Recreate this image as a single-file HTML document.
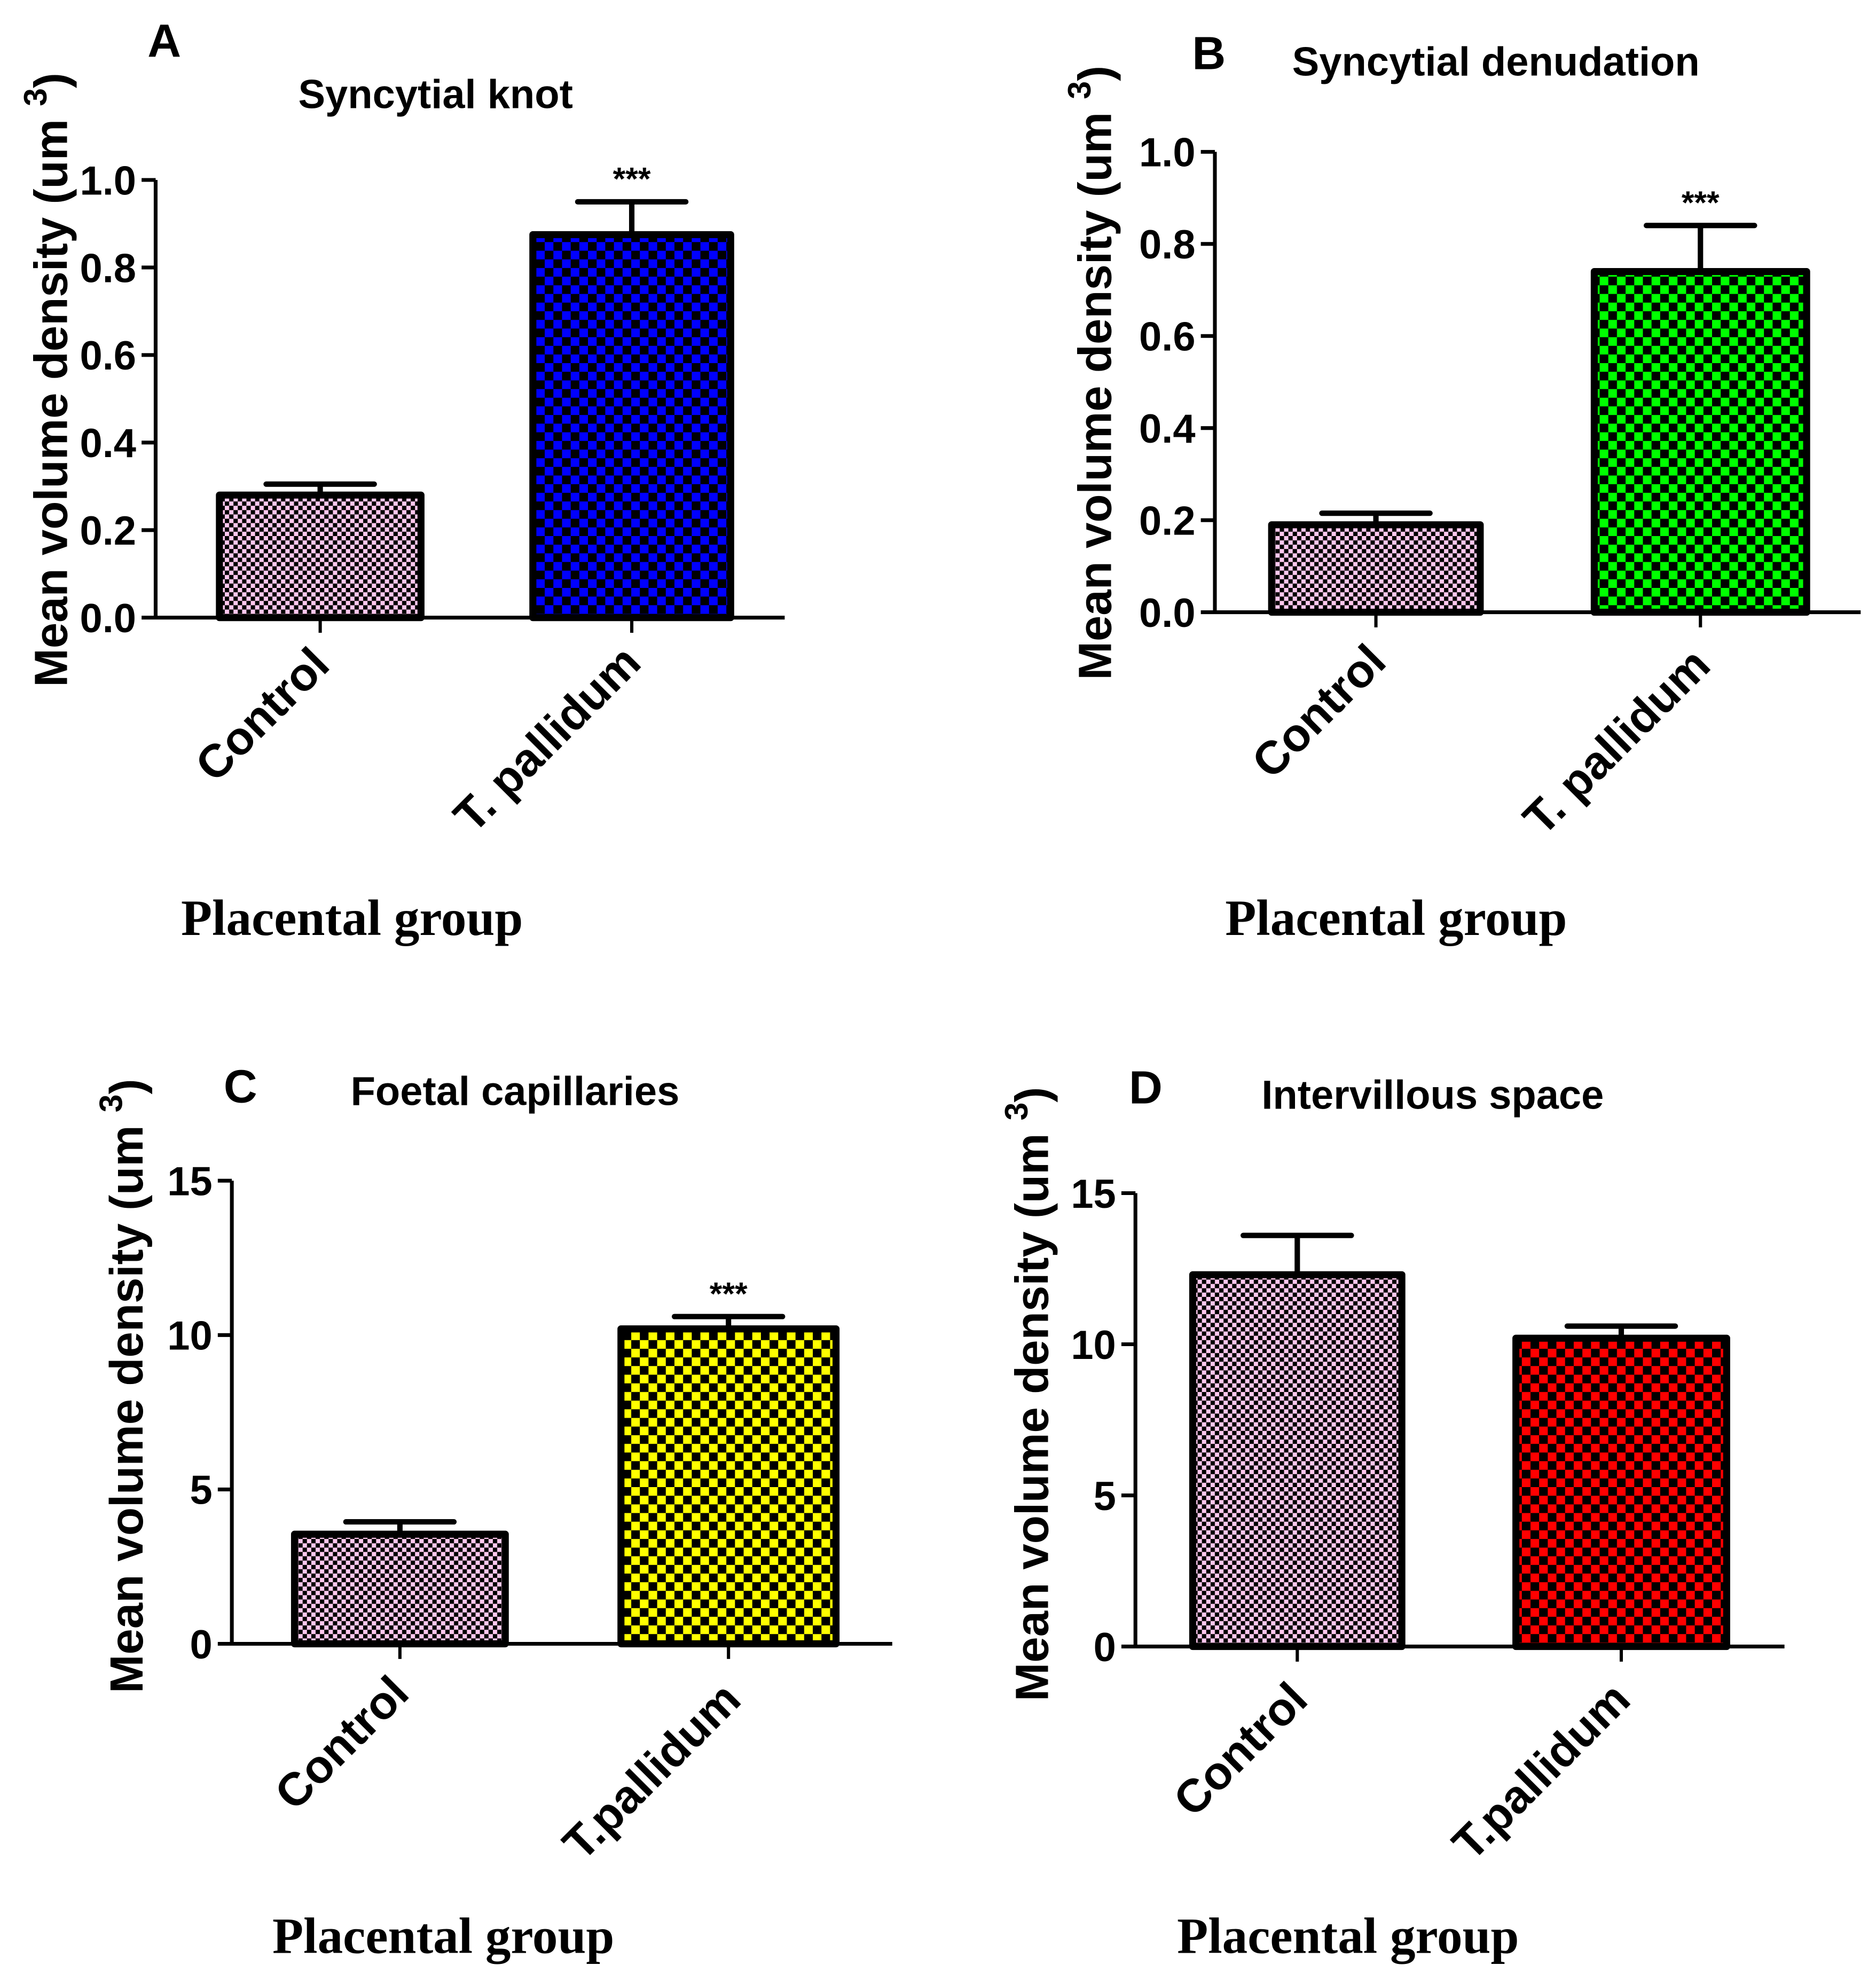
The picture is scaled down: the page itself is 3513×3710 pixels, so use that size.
<!DOCTYPE html>
<html><head><meta charset="utf-8"><style>
html,body{margin:0;padding:0;background:#fff}
svg{display:block}
text{font-family:"Liberation Sans",Arial,sans-serif;font-weight:bold;fill:#000}
.serif{font-family:"Liberation Serif","Times New Roman",serif}
</style></head><body>
<svg id="fig" width="3513" height="3710" viewBox="0 0 3513 3710" xmlns="http://www.w3.org/2000/svg">
<defs>
<pattern id="p-pink" width="16" height="16" patternUnits="userSpaceOnUse"><rect width="16" height="16" fill="#ffc8ee"/><rect width="8" height="8" fill="#000"/><rect x="8" y="8" width="8" height="8" fill="#000"/></pattern>
<pattern id="p-blue" width="32" height="32" patternUnits="userSpaceOnUse"><rect width="32" height="32" fill="#0000ff"/><rect width="16" height="16" fill="#000"/><rect x="16" y="16" width="16" height="16" fill="#000"/></pattern>
<pattern id="p-green" width="32" height="32" patternUnits="userSpaceOnUse"><rect width="32" height="32" fill="#00ff00"/><rect width="16" height="16" fill="#000"/><rect x="16" y="16" width="16" height="16" fill="#000"/></pattern>
<pattern id="p-yellow" width="32" height="32" patternUnits="userSpaceOnUse"><rect width="32" height="32" fill="#ffff00"/><rect width="16" height="16" fill="#000"/><rect x="16" y="16" width="16" height="16" fill="#000"/></pattern>
<pattern id="p-red" width="32" height="32" patternUnits="userSpaceOnUse"><rect width="32" height="32" fill="#ff0000"/><rect width="16" height="16" fill="#000"/><rect x="16" y="16" width="16" height="16" fill="#000"/></pattern>
</defs>
<g id="root" transform="scale(1.012)"></g>
</svg>
<script>
// Data
const panelLetters = ["A","B","C","D"];
const panelTitles = ["Syncytial knot","Syncytial denudation","Foetal capillaries","Intervillous space"];
const categoriesA = ["Control","T. pallidum"];
const categoriesB = ["Control","T. pallidum"];
const categoriesC = ["Control","T.pallidum"];
const categoriesD = ["Control","T.pallidum"];
const valuesA = [0.28, 0.875];
const errorsA = [0.305, 0.95];
const valuesB = [0.19, 0.74];
const errorsB = [0.215, 0.84];
const valuesC = [3.55, 10.2];
const errorsC = [3.95, 10.6];
const valuesD = [12.3, 10.2];
const errorsD = [13.6, 10.6];
const ticksA = [0,0.2,0.4,0.6,0.8,1.0];
const tickLabelsA = ["0.0","0.2","0.4","0.6","0.8","1.0"];
const ticksB = [0,0.2,0.4,0.6,0.8,1.0];
const tickLabelsB = ["0.0","0.2","0.4","0.6","0.8","1.0"];
const ticksC = [0,5,10,15];
const tickLabelsC = ["0","5","10","15"];
const ticksD = [0,5,10,15];
const tickLabelsD = ["0","5","10","15"];
const sigA = ["", "***"];
const sigB = ["", "***"];
const sigC = ["", "***"];
const sigD = ["", ""];

const NS="http://www.w3.org/2000/svg";
const root=document.getElementById('root');
function el(tag,attrs,parent,txt){const e=document.createElementNS(NS,tag);for(const k in attrs)e.setAttribute(k,attrs[k]);if(txt!==undefined)e.textContent=txt;(parent||root).appendChild(e);return e;}

const layouts=[
 {ax:288,y0:1143,yTop:333,vTop:1,xEnd:1452,bars:[[400,785],[980,1358]],fills:["url(#p-pink)","url(#p-blue)"],
  letter:[304,105],title:[806,200],ylab:[94,703],cat:[[614,1235],[1190,1231]],pg:[335,1730],
  cats:categoriesA,vals:valuesA,errs:errorsA,ticks:ticksA,tl:tickLabelsA,sig:sigA},
 {ax:2248,y0:1133,yTop:281,vTop:1,xEnd:3443,bars:[[2347,2745],[2944,3349]],fills:["url(#p-pink)","url(#p-green)"],
  letter:[2237,128],title:[2768,140],ylab:[2026,690],cat:[[2569,1229],[3169,1236]],pg:[2267,1730],
  cats:categoriesB,vals:valuesB,errs:errorsB,ticks:ticksB,tl:tickLabelsB,sig:sigB},
 {ax:429,y0:3042,yTop:2185,vTop:15,xEnd:1651,bars:[[539,941],[1143,1553]],fills:["url(#p-pink)","url(#p-yellow)"],
  letter:[445,2040],title:[953,2045],ylab:[234,2565],cat:[[761,3138],[1375,3150]],pg:[504,3614],
  cats:categoriesC,vals:valuesC,errs:errorsC,ticks:ticksC,tl:tickLabelsC,sig:sigC},
 {ax:2101,y0:3047,yTop:2208,vTop:15,xEnd:3302,bars:[[2201,2600],[2799,3201]],fills:["url(#p-pink)","url(#p-red)"],
  letter:[2120,2042],title:[2651,2052],ylab:[1909,2580],cat:[[2424,3150],[3021,3150]],pg:[2178,3614],
  cats:categoriesD,vals:valuesD,errs:errorsD,ticks:ticksD,tl:tickLabelsD,sig:sigD}
];

layouts.forEach((L,i)=>{
  const id=panelLetters[i].toLowerCase();
  const g=el('g',{});
  
  
  const y=v=>L.y0-(v/L.vTop)*(L.y0-L.yTop);
  const lt=el('text',{x:L.letter[0],y:L.letter[1],'font-size':86,'text-anchor':'middle'},g,panelLetters[i]);
  
  
  const tt=el('text',{x:L.title[0],y:L.title[1],'font-size':75,'text-anchor':'middle'},g,panelTitles[i]);
  
  
  const yt=el('text',{transform:`translate(${L.ylab[0]+30},${L.ylab[1]}) rotate(-90)`,'font-size':86,'text-anchor':'middle'},g);
  
  
  el('tspan',{},yt,'Mean volume density (um ');
  el('tspan',{dy:-38,'font-size':60},yt,'3');
  el('tspan',{dy:38},yt,')');
  L.vals.forEach((v,j)=>{
    const [x1,x2]=L.bars[j];const cx=(x1+x2)/2;
    const r=el('rect',{x:x1+6,y:y(v),width:x2-x1-12,height:L.y0-y(v),fill:L.fills[j],stroke:'#000','stroke-width':13,'stroke-linejoin':'round'},g);
    
    
    const e=el('path',{d:`M${cx},${y(v)} V${y(L.errs[j])} M${cx-100},${y(L.errs[j])} H${cx+100}`,stroke:'#000','stroke-width':10,'stroke-linecap':'round',fill:'none'},g);
    
    
    if(L.sig[j]){
      const s=el('text',{x:cx,y:y(L.errs[j])-22,'font-size':60,'font-weight':'normal','text-anchor':'middle'},g,L.sig[j]);
      
      
    }
    const tk=el('line',{x1:cx,x2:cx,y1:L.y0,y2:L.y0+28,stroke:'#000','stroke-width':6},g);
    
    
    const c=el('text',{transform:`translate(${L.cat[j][0]},${L.cat[j][1]}) rotate(-45)`,'font-size':86,'text-anchor':'end'},g,L.cats[j]);
    
    
  });
  const ya=el('line',{x1:L.ax,x2:L.ax,y1:L.yTop,y2:L.y0+3,stroke:'#000','stroke-width':7},g);
  
  
  const xa=el('line',{x1:L.ax,x2:L.xEnd,y1:L.y0,y2:L.y0,stroke:'#000','stroke-width':7},g);
  
  
  L.ticks.forEach((t,k)=>{
    const tl=el('line',{x1:L.ax-26,x2:L.ax,y1:y(t),y2:y(t),stroke:'#000','stroke-width':7},g);
    
    
    const tx=el('text',{x:L.ax-36,y:y(t)+27,'font-size':75,'text-anchor':'end'},g,L.tl[k]);
    
    
  });
  const pg=el('text',{x:L.pg[0],y:L.pg[1],'font-size':94,class:'serif'},g,'Placental group');
  
  
});
</script>
</body></html>
